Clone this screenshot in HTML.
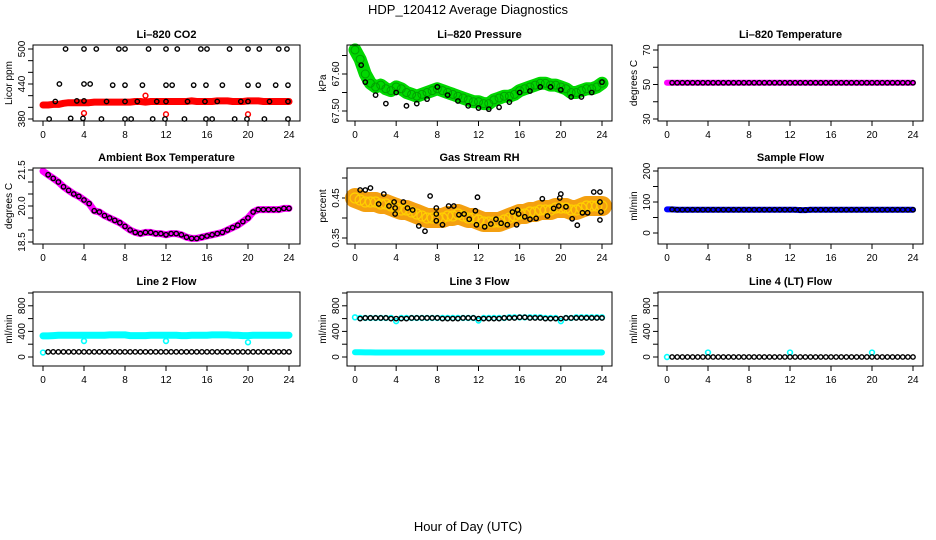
<!DOCTYPE html>
<html><head><meta charset="utf-8"><style>
body{margin:0;background:#fff;}
svg{display:block;font-family:"Liberation Sans",sans-serif;}
</style></head><body>
<svg id="c" width="936" height="540" viewBox="0 0 936 540">
<text x="468" y="14" text-anchor="middle" font-size="13">HDP_120412  Average Diagnostics</text>
<text x="468" y="531" text-anchor="middle" font-size="13">Hour of Day (UTC)</text>
</svg>
<script>
// ---- data ----
const hours = [0,0.5,1,1.5,2,2.5,3,3.5,4,4.5,5,5.5,6,6.5,7,7.5,8,8.5,9,9.5,10,10.5,11,11.5,12,12.5,13,13.5,14,14.5,15,15.5,16,16.5,17,17.5,18,18.5,19,19.5,20,20.5,21,21.5,22,22.5,23,23.5,24];
const xTicks = [0,4,8,12,16,20,24];
const co2Red = [404,404,405,405,407,408,408,408,408,408,409,409,409,409,409,409,409,409,410,410,409,410,410,410,410,410,410,410,410,411,410,410,410,410,411,411,411,410,410,410,411,411,411,410,410,410,410,410,410];
const co2RedOutX = [4,10,12,20];
const co2RedOutY = [390,420,388,388];
const co2BlackX = [2.2,4,5.2,7.4,8,10.3,12,13.1,15.4,16,18.2,20,21.1,23,23.8, 1.6,4,4.6,6.8,8,9.7,12,12.6,14.7,15.9,17.5,20,21,22.7,23.9, 1.2,3.3,4,6.2,8,9.2,11.1,12,14.1,15.8,17,19.3,20,22.1,23.9, 0.6,2.7,3.9,5.7,8,8.6,10.7,11.9,13.8,15.9,16.5,18.7,19.9,21.6,23.9];
const co2BlackY = [500,500,500,500,500,500,500,500,500,500,500,500,500,500,500, 440,440,440,438,438,438,438,438,438,438,438,438,438,438,438, 410,411,411,410,410,410,410,410,410,410,410,410,410,410,410, 380,381,381,380,380,380,380,380,380,380,380,380,380,380,380];
const presGreen = [67.665,67.64,67.60,67.575,67.565,67.57,67.56,67.555,67.565,67.56,67.55,67.545,67.54,67.545,67.55,67.555,67.56,67.555,67.55,67.545,67.54,67.535,67.53,67.525,67.525,67.52,67.52,67.53,67.535,67.54,67.54,67.545,67.555,67.56,67.565,67.57,67.575,67.575,67.57,67.57,67.565,67.56,67.55,67.55,67.555,67.56,67.56,67.565,67.575];
const presBlackX = [0.6,1,2,3,4,5,6,7,8,9,10,11,12,13,14,15,16,17,18,19,20,21,22,23,24];
const presBlackY = [67.624,67.578,67.543,67.52,67.55,67.514,67.52,67.532,67.565,67.543,67.527,67.514,67.508,67.505,67.51,67.524,67.55,67.554,67.565,67.565,67.557,67.538,67.538,67.55,67.578];
const licorTemp = [51,51,51,51,51,51,51,51,51,51,51,51,51,51,51,51,51,51,51,51,51,51,51,51,51,51,51,51,51,51,51,51,51,51,51,51,51,51,51,51,51,51,51,51,51,51,51,51,51];
const ambTemp = [21.45,21.3,21.15,21.0,20.8,20.65,20.5,20.4,20.25,20.1,19.8,19.75,19.6,19.5,19.4,19.3,19.15,19.0,18.9,18.85,18.9,18.9,18.85,18.85,18.8,18.85,18.85,18.8,18.7,18.65,18.65,18.7,18.75,18.8,18.85,18.9,19.0,19.1,19.2,19.35,19.5,19.75,19.85,19.85,19.85,19.85,19.85,19.9,19.9];
const rhOrange = [0.45,0.445,0.44,0.44,0.44,0.435,0.435,0.43,0.425,0.42,0.42,0.415,0.41,0.405,0.40,0.40,0.40,0.40,0.405,0.405,0.41,0.405,0.40,0.40,0.395,0.39,0.39,0.39,0.39,0.395,0.40,0.405,0.41,0.41,0.415,0.415,0.42,0.42,0.42,0.425,0.425,0.425,0.42,0.42,0.425,0.43,0.43,0.43,0.43];
const rhBlackX = [0.5,1,1.5,2.3,2.8,3.3,3.8,3.9,3.9,4.7,5.1,5.6,6.2,6.8,7.3,7.9,7.9,7.9,8.5,9.1,9.6,10.1,10.6,11.1,11.7,11.9,11.8,12.6,13.2,13.7,14.2,14.8,15.3,15.8,15.7,15.9,16.5,17,17.6,18.2,18.7,19.3,19.8,19.9,20,20.5,21.1,21.6,22.1,22.6,23.2,23.8,23.8,23.9,23.8];
const rhBlackY = [0.47,0.47,0.475,0.435,0.46,0.43,0.44,0.425,0.41,0.44,0.425,0.42,0.38,0.367,0.455,0.425,0.41,0.393,0.383,0.43,0.43,0.408,0.41,0.397,0.418,0.452,0.383,0.378,0.385,0.397,0.387,0.383,0.415,0.42,0.383,0.41,0.403,0.397,0.399,0.448,0.405,0.424,0.43,0.45,0.46,0.428,0.398,0.382,0.413,0.413,0.465,0.465,0.44,0.415,0.395];
const sampleFlow = [76,76,75,75,75,75,75,75,75,75,75,75,75,75,75,75,75,75,75,75,75,75,75,75,75,75,74,74,75,75,75,75,75,75,75,75,75,75,75,75,75,75,75,75,75,75,75,75,75];
const line2Cyan = [330,330,335,340,340,340,340,340,340,340,340,340,340,345,345,345,345,335,335,335,335,340,340,340,340,340,340,335,335,340,340,340,340,345,345,345,345,340,340,335,335,340,340,340,340,340,340,340,340];
const line2CyanOutX = [0,4,12,20];
const line2CyanOutY = [70,250,250,230];
const line2Black = [80,80,80,80,80,80,80,80,80,80,80,80,80,80,80,80,80,80,80,80,80,80,80,80,80,80,80,80,80,80,80,80,80,80,80,80,80,80,80,80,80,80,80,80,80,80,80,80,80];
const line3Cyan = [620,610,610,610,610,610,610,610,560,610,610,610,610,610,610,610,610,610,610,610,610,610,610,610,570,610,610,610,610,610,620,620,620,620,620,620,620,610,610,610,560,610,610,620,620,620,620,620,620];
const line3Black = [610,600,610,610,610,610,610,600,600,600,600,610,610,610,610,610,610,600,600,600,600,610,610,610,600,600,600,600,600,610,610,610,620,620,610,610,610,600,600,600,600,610,610,610,610,610,610,610,610];
const line3Low = [75,75,72,72,70,70,70,70,70,70,70,70,70,70,70,70,70,70,70,70,70,70,70,70,70,70,70,70,70,70,70,70,70,70,70,70,70,70,70,70,70,70,70,70,70,70,70,70,70];
const line4Black = [0,0,0,0,0,0,0,0,0,0,0,0,0,0,0,0,0,0,0,0,0,0,0,0,0,0,0,0,0,0,0,0,0,0,0,0,0,0,0,0,0,0,0,0,0,0,0,0,0];
const line4CyanX = [0,4,12,20];
const line4CyanY = [0,70,70,70];

const NS = "http://www.w3.org/2000/svg";
const svg = document.getElementById('c');
const cols = [{l:33,r:300,x0:43,x24:289},{l:347,r:612,x0:355,x24:602},{l:658,r:923,x0:667,x24:913}];
const rows = [{t:45,b:121},{t:168,b:244},{t:292,b:366}];

function el(tag, attrs, parent){
  const e = document.createElementNS(NS, tag);
  for (const k in attrs) e.setAttribute(k, attrs[k]);
  (parent||svg).appendChild(e);
  return e;
}

function panel(name, ci, ri, title, ytitle, v0, p0, v1, p1, yticks, ylabels){
  const c = cols[ci], r = rows[ri];
  const g = el('g', {});
  
  
  const xs = v => c.x0 + (v/24)*(c.x24-c.x0);
  const ys = v => p0 + (v-v0)/(v1-v0)*(p1-p0);
  const t = el('text', {x:(c.l+c.r)/2, y:r.t-7, 'text-anchor':'middle', 'font-size':11, 'font-weight':'bold'}, g);
  t.textContent = title;
  
  
  const yt = el('text', {transform:`translate(${c.l-21},${(r.t+r.b)/2}) rotate(-90)`, 'text-anchor':'middle', 'font-size':10}, g);
  yt.textContent = ytitle;
  
  
  const xa = el('g', {}, g);
  
  
  el('line', {x1:xs(xTicks[0]), x2:xs(xTicks[xTicks.length-1]), y1:r.b, y2:r.b, stroke:'#000'}, xa);
  xTicks.forEach(v => {
    el('line', {x1:xs(v), x2:xs(v), y1:r.b, y2:r.b+5, stroke:'#000'}, xa);
    const tl = el('text', {x:xs(v), y:r.b+17, 'text-anchor':'middle', 'font-size':10}, xa);
    tl.textContent = v;
  });
  const ya = el('g', {}, g);
  
  
  el('line', {x1:c.l, x2:c.l, y1:ys(yticks[0]), y2:ys(yticks[yticks.length-1]), stroke:'#000'}, ya);
  yticks.forEach(v => el('line', {x1:c.l-5, x2:c.l, y1:ys(v), y2:ys(v), stroke:'#000'}, ya));
  ylabels.forEach(v => {
    const tl = el('text', {transform:`translate(${c.l-8},${ys(parseFloat(v))}) rotate(-90)`, 'text-anchor':'middle', 'font-size':10}, ya);
    tl.textContent = v;
  });
  const data = el('g', {}, g);
  
  
  const box = el('rect', {x:c.l, y:r.t, width:c.r-c.l, height:r.b-r.t, fill:'none', stroke:'#000'}, g);
  
  
  return {xs, ys, g:data};
}

function pts(P, X, Y, color, rad, sw){
  for (let i=0;i<Y.length;i++){
    el('circle', {cx:P.xs(X[i]), cy:P.ys(Y[i]), r:rad, fill:'none', stroke:color, 'stroke-width':sw}, P.g);
  }
}
function band(P, X, Y, color, w){
  const d = X.map((x,i)=>(i?'L':'M')+P.xs(x).toFixed(1)+','+P.ys(Y[i]).toFixed(1)).join(' ');
  el('path', {d, fill:'none', stroke:color, 'stroke-width':w, 'stroke-linecap':'round', 'stroke-linejoin':'round'}, P.g);
}
function blackHalf(P, Y){
  pts(P, hours.slice(1), Y.slice(1), '#000', 2.2, 1.4);
}

let P = panel('co2', 0, 0, 'Li\u2013820 CO2', 'Licor ppm', 380, 119, 500, 49, [380,400,420,440,460,480,500], ['380','440','500']);
band(P, hours, co2Red, '#f00', 7);
pts(P, co2RedOutX, co2RedOutY, '#f00', 2.4, 1.5);
pts(P, co2BlackX, co2BlackY, '#000', 2.2, 1.4);

P = panel('pressure', 1, 0, 'Li\u2013820 Pressure', 'kPa', 67.5, 111, 67.6, 74, [67.50,67.55,67.60,67.65], ['67.50','67.60']);
band(P, hours, presGreen, '#00d800', 13);
pts(P, hours, presGreen, '#00a000', 4, 1);
pts(P, presBlackX, presBlackY, '#000', 2.2, 1.4);

P = panel('licor-temp', 2, 0, 'Li\u2013820 Temperature', 'degrees C', 30, 119, 70, 50, [30,40,50,60,70], ['30','50','70']);
band(P, hours, licorTemp, '#f0f', 6);
blackHalf(P, licorTemp);

P = panel('ambient-temp', 0, 1, 'Ambient Box Temperature', 'degrees C', 18.5, 242, 21.5, 170, [18.5,19.0,19.5,20.0,20.5,21.0,21.5], ['18.5','20.0','21.5']);
band(P, hours, ambTemp, '#f0f', 7);
blackHalf(P, ambTemp);

P = panel('rh', 1, 1, 'Gas Stream RH', 'percent', 0.35, 238, 0.45, 198, [0.35,0.40,0.45,0.50], ['0.35','0.45']);
band(P, hours, rhOrange, '#f4a010', 20);
pts(P, hours, rhOrange, '#ffd000', 5, 1.2);
pts(P, rhBlackX, rhBlackY, '#000', 2.2, 1.4);

P = panel('sample-flow', 2, 1, 'Sample Flow', 'ml/min', 0, 233, 200, 171, [0,50,100,150,200], ['0','100','200']);
band(P, hours, sampleFlow, '#00f', 6);
blackHalf(P, sampleFlow);

P = panel('line2-flow', 0, 2, 'Line 2 Flow', 'ml/min', 0, 357, 1000, 293, [0,200,400,600,800,1000], ['0','400','800']);
band(P, hours, line2Cyan, '#0ff', 7);
pts(P, line2CyanOutX, line2CyanOutY, '#0ff', 2.4, 1.6);
blackHalf(P, line2Black);

P = panel('line3-flow', 1, 2, 'Line 3 Flow', 'ml/min', 0, 357, 1000, 293, [0,200,400,600,800,1000], ['0','400','800']);
band(P, hours, line3Low, '#0ff', 6);
pts(P, hours, line3Cyan, '#0ff', 2.4, 1.6);
blackHalf(P, line3Black);

P = panel('line4-flow', 2, 2, 'Line 4 (LT) Flow', 'ml/min', 0, 357, 1000, 293, [0,200,400,600,800,1000], ['0','400','800']);
pts(P, line4CyanX, line4CyanY, '#0ff', 2.4, 1.6);
blackHalf(P, line4Black);
</script>
</body></html>
